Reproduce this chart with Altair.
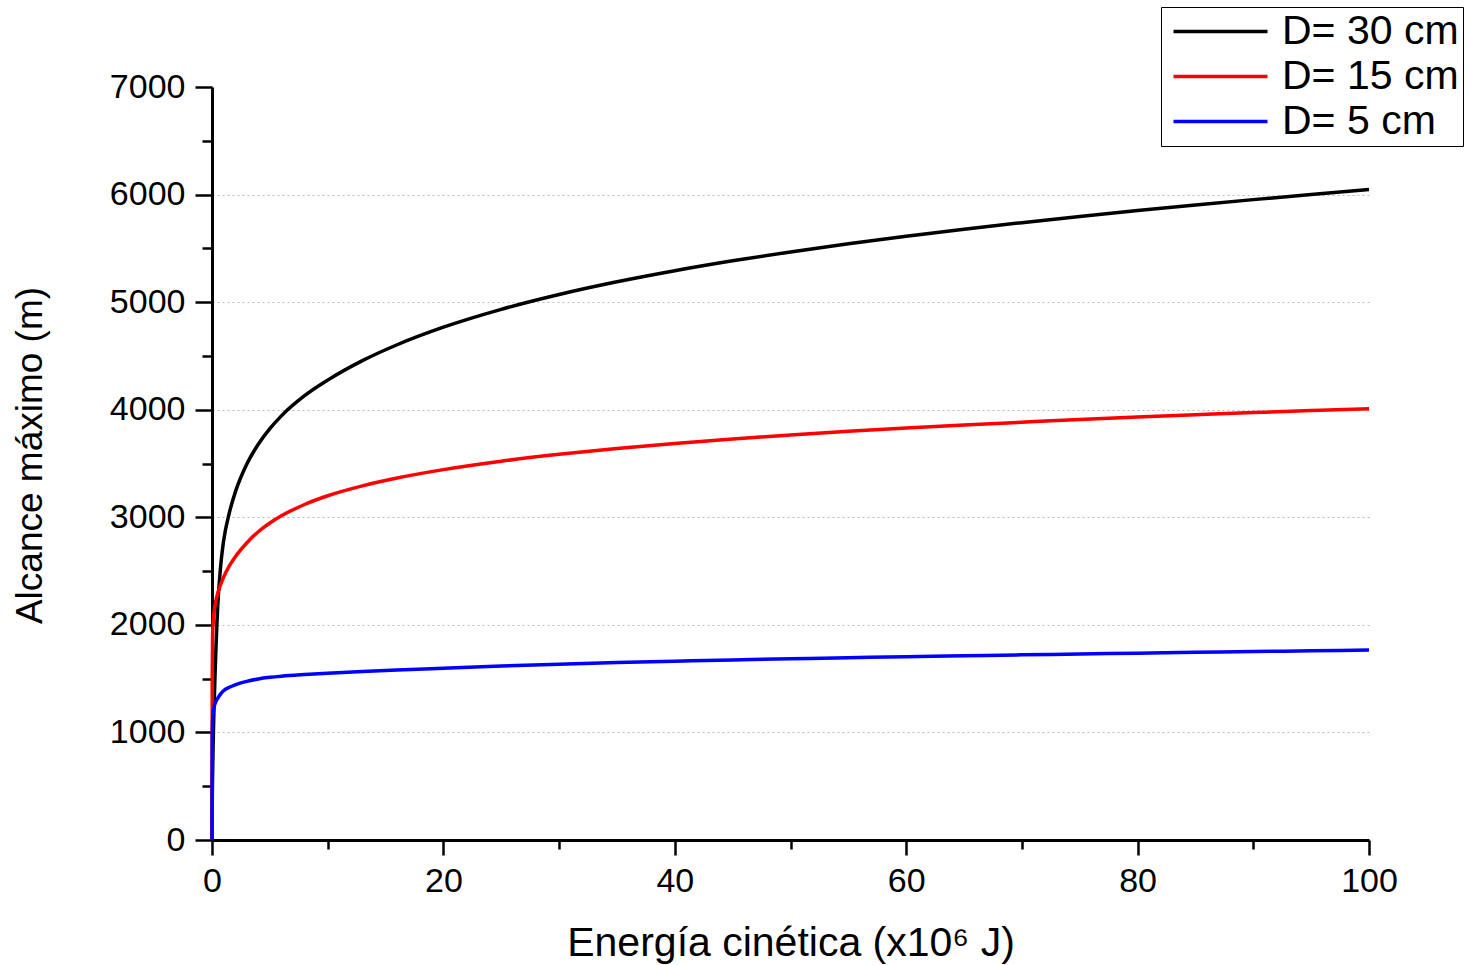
import altair as alt
import pandas as pd

# Kinetic energy (x10^6 J)
energia = [0, 0.02, 0.05, 0.1, 0.25, 0.5, 0.75, 1, 1.5, 2, 3, 4, 5, 6, 8, 10, 13, 16, 20,
           25, 30, 35, 40, 45, 50, 55, 60, 65, 70, 75, 80, 85, 90, 95, 100]

# Maximum range (m) for each diameter
alcance_30 = [0, 350, 600, 900, 1490, 2183, 2548, 2778, 3042, 3229, 3492, 3679, 3824, 3943,
              4130, 4275, 4456, 4604, 4767, 4933, 5071, 5189, 5292, 5384, 5467, 5543, 5613,
              5678, 5739, 5796, 5851, 5903, 5953, 6001, 6047]
alcance_15 = [0, 1500, 1904, 2015, 2171, 2296, 2377, 2443, 2548, 2631, 2761, 2866, 2947, 3014,
              3119, 3200, 3292, 3365, 3443, 3521, 3585, 3639, 3686, 3728, 3765, 3799, 3830,
              3858, 3884, 3909, 3932, 3953, 3973, 3992, 4010]
alcance_5 = [0, 900, 1100, 1190, 1265, 1320, 1358, 1388, 1420, 1443, 1475, 1497, 1512, 1523,
             1538, 1550, 1566, 1580, 1597, 1617, 1634, 1649, 1662, 1674, 1685, 1695, 1704,
             1713, 1721, 1729, 1737, 1745, 1752, 1759, 1766]

series_names = ["D= 30 cm", "D= 15 cm", "D= 5 cm"]
series_colors = ["#000000", "#ff0000", "#0000ff"]

rows = []
for name, vals in zip(series_names, [alcance_30, alcance_15, alcance_5]):
    for e, v in zip(energia, vals):
        rows.append({"E": e, "R": v, "serie": name})
df = pd.DataFrame(rows)

FONT = "Liberation Sans"

x_axis = alt.Axis(
    values=list(range(0, 101, 10)),
    labelExpr="datum.value % 20 === 0 ? datum.label : ''",
    tickSize={"condition": {"test": "datum.value % 20 === 0", "value": 15}, "value": 9},
    tickWidth=2.5,
    tickColor="black",
    domainWidth=3,
    domainColor="black",
    grid=False,
    labelFont=FONT,
    labelFontSize=34,
    labelColor="black",
    labelPadding=9,
    labelOverlap=False,
    labelFlush=False,
    title="Energía cinética (x10⁶ J)",
    titleFont=FONT,
    titleFontSize=41,
    titleFontWeight="normal",
    titleColor="black",
    titleY=115,
    titleBaseline="alphabetic",
)

y_axis = alt.Axis(
    values=list(range(0, 7001, 500)),
    labelExpr="datum.value % 1000 === 0 ? datum.label : ''",
    format="d",
    tickSize={"condition": {"test": "datum.value % 1000 === 0", "value": 17}, "value": 10},
    tickWidth=2.5,
    tickColor="black",
    domainWidth=3,
    domainColor="black",
    grid=True,
    gridColor="#bbbbbb",
    gridDash=[2, 3],
    gridWidth=1,
    gridOpacity={"condition": {"test": "datum.value % 1000 === 0 && datum.value > 0 && datum.value < 7000",
                               "value": 1}, "value": 0},
    labelFont=FONT,
    labelFontSize=34,
    labelColor="black",
    labelPadding=10,
    labelOverlap=False,
    labelFlush=False,
    title="Alcance máximo (m)",
    titleFont=FONT,
    titleFontSize=37,
    titleFontWeight="normal",
    titleColor="black",
    titleX=-200,
    titleY=368,
    titleAngle=-90,
    titleAlign="center",
    titleBaseline="top",
)

legend = alt.Legend(
    title=None,
    orient="none",
    legendX=949,
    legendY=-80,
    symbolType="M-9.4,0L9.4,0",
    symbolSize=100,
    symbolStrokeWidth=3.5,
    symbolOffset=35,
    labelOffset=41,
    labelFont=FONT,
    labelFontSize=41,
    labelColor="black",
    labelLimit=500,
    rowPadding=3,
    padding=4,
    strokeColor="black",
    fillColor="white",
)

chart = alt.Chart(df).mark_line(strokeWidth=3.5, interpolate="monotone").encode(
    x=alt.X("E:Q", scale=alt.Scale(domain=[0, 100], nice=False, zero=False), axis=x_axis),
    y=alt.Y("R:Q", scale=alt.Scale(domain=[0, 7000], nice=False), axis=y_axis),
    color=alt.Color("serie:N", scale=alt.Scale(domain=series_names, range=series_colors),
                    sort=series_names, legend=legend),
    order=alt.Order("E:Q"),
).properties(
    width=1157,
    height=753,
    autosize=alt.AutoSizeParams(type="none"),
    padding={"left": 212, "top": 87, "right": 101, "bottom": 125},
    background="white",
).configure_view(stroke=None)

chart.save("out.html", embed_options={"renderer": "svg", "actions": False})
